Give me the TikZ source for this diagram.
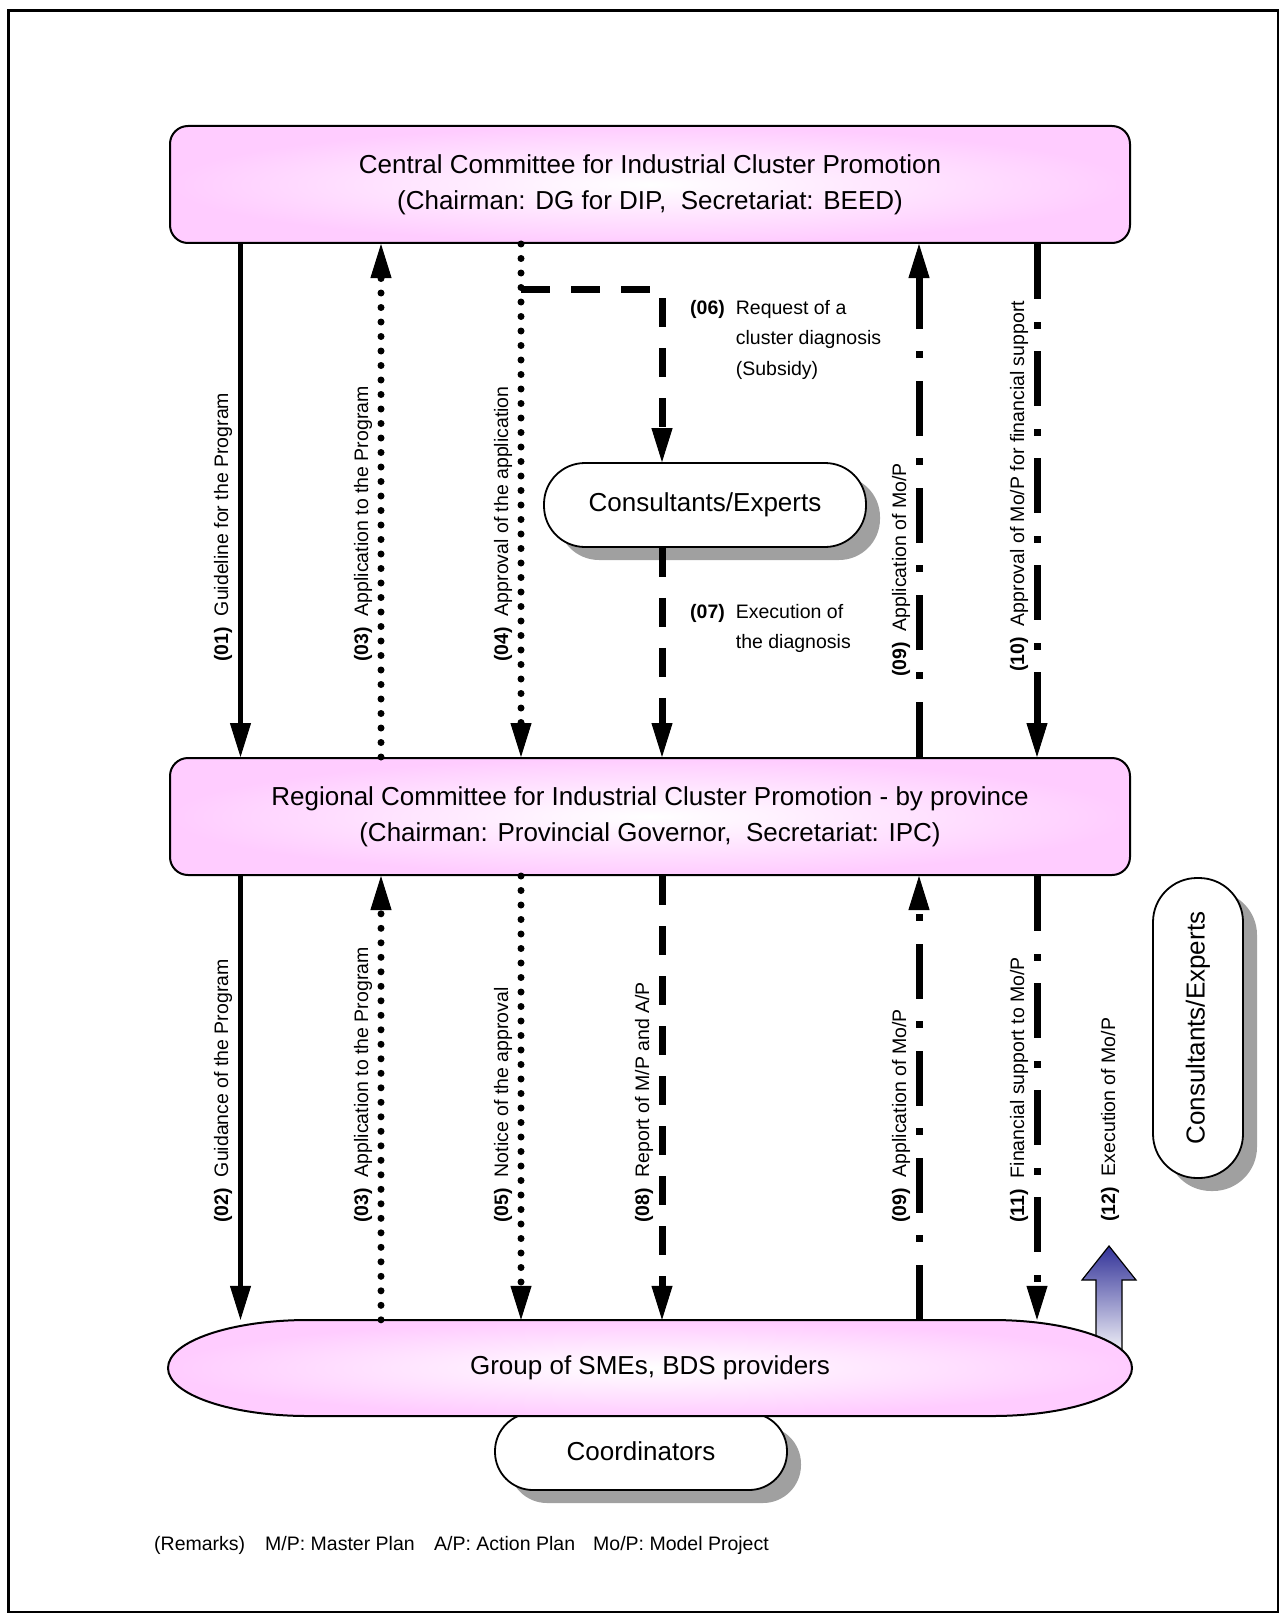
\documentclass[tikz,border=0pt]{standalone}
\usepackage{fontspec}
\usepackage{graphicx}
\setmainfont{Liberation Sans}
\usetikzlibrary{arrows.meta,shadows}

\definecolor{boxpink}{RGB}{255,204,255}
\definecolor{shadowgray}{RGB}{160,160,160}
\definecolor{arrowblue}{RGB}{51,51,153}
\definecolor{arrowpale}{RGB}{242,242,248}

\begin{document}
\begin{tikzpicture}[x=1pt,y=-1pt,
  committee/.style={draw=black, line width=2pt, rounded corners=18pt,
    minimum width=960pt, minimum height=117pt, inner color=white,
    outer color=boxpink, align=center, font=\fontsize{26}{36}\selectfont},
  capsule/.style={draw=black, line width=1.8pt, fill=white, inner sep=0pt,
    font=\fontsize{26}{30}\selectfont,
    drop shadow={shadow xshift=14pt, shadow yshift=-13pt, fill=shadowgray, opacity=1}},
  lbl/.style={rotate=90, anchor=west, inner sep=0pt, font=\fontsize{19.5}{24}\selectfont},
  note/.style={inner sep=0pt, anchor=base west, align=left, font=\fontsize{19.5}{30.5}\selectfont},
  headend/.style={-{Triangle[length=34pt,width=21pt,line width=1pt]}},
  solidline/.style={line width=5.5pt, headend},
  dotline/.style={line width=7pt, line cap=round, dash pattern=on 0pt off 14.5pt, headend},
  dashline/.style={line width=7pt, dash pattern=on 29pt off 21pt, headend},
  dashdotline/.style={line width=7pt, dash pattern=on 55pt off 23pt on 7pt off 22pt, headend}
]
\useasboundingbox (0,0) rectangle (1286,1621);

% outer frame
\draw[line width=2.2pt] (8.5,10.5) rectangle (1278,1612);

% column positions of the connectors
\coordinate (c1) at (240.5,0);
\coordinate (c2) at (381,0);
\coordinate (c3) at (521,0);
\coordinate (c4) at (662,0);
\coordinate (c5) at (919,0);
\coordinate (c6) at (1037,0);
\coordinate (r6) at (521,289);

% committees
\node[committee] (central) at (650,184.5)
  {Central Committee for Industrial Cluster Promotion\\(Chairman: DG for DIP,\ \ Secretariat: BEED)};
\node[committee] (regional) at (650,816.5)
  {Regional Committee for Industrial Cluster Promotion - by province\\(Chairman: Provincial Governor,\ \ Secretariat: IPC)};

% consultants and coordinators
\node[capsule, minimum width=322pt, minimum height=84pt, rounded corners=41pt] (consA) at (705,505) {Consultants/Experts};
\node[capsule, minimum width=90pt, minimum height=300pt, rounded corners=44pt] (consB) at (1198,1028) {\rotatebox{90}{Consultants/Experts}};
\node[capsule, minimum width=292pt, minimum height=77pt, rounded corners=38pt] (coord) at (641,1451.5) {Coordinators};

% block arrow (12) rising from the SME group
\path[draw=black, line width=1.2pt, top color=arrowblue, bottom color=arrowpale]
  (1096,1352) -- (1096,1280) -- (1082,1280) -- (1109,1246) -- (1136,1280)
  -- (1122,1280) -- (1122,1352) -- cycle;

% group of SMEs
\node[minimum width=964pt, minimum height=96pt, inner sep=0pt] (smes) at (650,1368) {};
\path[draw=black, line width=2pt, inner color=white, outer color=boxpink]
  (308,1320) -- (992,1320) arc[start angle=90, end angle=-90, x radius=140pt, y radius=48pt]
  -- (308,1416) arc[start angle=270, end angle=90, x radius=140pt, y radius=48pt] -- cycle;
\node[font=\fontsize{26}{30}\selectfont] at (smes.center) {Group of SMEs, BDS providers};

% central -> regional connectors
\draw[solidline] (central.south -| c1) -- (regional.north -| c1);
\draw[dotline] (regional.north -| c2) -- (central.south -| c2);
\draw[dotline] (central.south -| c3) -- (regional.north -| c3);
\draw[dashline] (r6) -| (consA.north -| c4);
\draw[dashline] (consA.south -| c4) -- (regional.north -| c4);
\draw[dashdotline] (regional.north -| c5) -- (central.south -| c5);
\draw[dashdotline] (central.south -| c6) -- (regional.north -| c6);

% regional -> SMEs connectors
\draw[solidline] (regional.south -| c1) -- (smes.north -| c1);
\draw[dotline] (smes.north -| c2) -- (regional.south -| c2);
\draw[dotline] (regional.south -| c3) -- (smes.north -| c3);
\draw[dashline] (regional.south -| c4) -- (smes.north -| c4);
\draw[dashdotline] (smes.north -| c5) -- (regional.south -| c5);
\draw[dashdotline] (regional.south -| c6) -- (smes.north -| c6);

% connector labels, upper level
\node[lbl] (l01) at (223,662) {\textbf{(01)}\hspace{11pt}Guideline for the Program};
\node[lbl] (l03a) at (363,662) {\textbf{(03)}\hspace{11pt}Application to the Program};
\node[lbl] (l04) at (503,662) {\textbf{(04)}\hspace{11pt}Approval of the application};
\node[lbl] (l09a) at (901,677) {\textbf{(09)}\hspace{11pt}Application of Mo/P};
\node[lbl] (l10) at (1019,672) {\textbf{(10)}\hspace{11pt}Approval of Mo/P for financial support};
\node[note] (l06) at (690,314) {\textbf{(06)}\hspace{11pt}\begin{tabular}[t]{@{}l@{}}Request of a\\cluster diagnosis\\(Subsidy)\end{tabular}};
\node[note] (l07) at (690,618) {\textbf{(07)}\hspace{11pt}\begin{tabular}[t]{@{}l@{}}Execution of\\the diagnosis\end{tabular}};

% connector labels, lower level
\node[lbl] (l02) at (223,1223) {\textbf{(02)}\hspace{11pt}Guidance of the Program};
\node[lbl] (l03b) at (363,1223) {\textbf{(03)}\hspace{11pt}Application to the Program};
\node[lbl] (l05) at (503,1223) {\textbf{(05)}\hspace{11pt}Notice of the approval};
\node[lbl] (l08) at (644,1223) {\textbf{(08)}\hspace{11pt}Report of M/P and A/P};
\node[lbl] (l09b) at (901,1223) {\textbf{(09)}\hspace{11pt}Application of Mo/P};
\node[lbl] (l11) at (1019,1223) {\textbf{(11)}\hspace{11pt}Financial support to Mo/P};
\node[lbl] (l12) at (1110,1222) {\textbf{(12)}\hspace{11pt}Execution of Mo/P};

% remarks
\node[note] (rm0) at (154,1550) {(Remarks)};
\node[note] (rm1) at (265,1550) {M/P: Master Plan};
\node[note] (rm2) at (434,1550) {A/P: Action Plan};
\node[note] (rm3) at (593,1550) {Mo/P: Model Project};
\end{tikzpicture}
\end{document}
